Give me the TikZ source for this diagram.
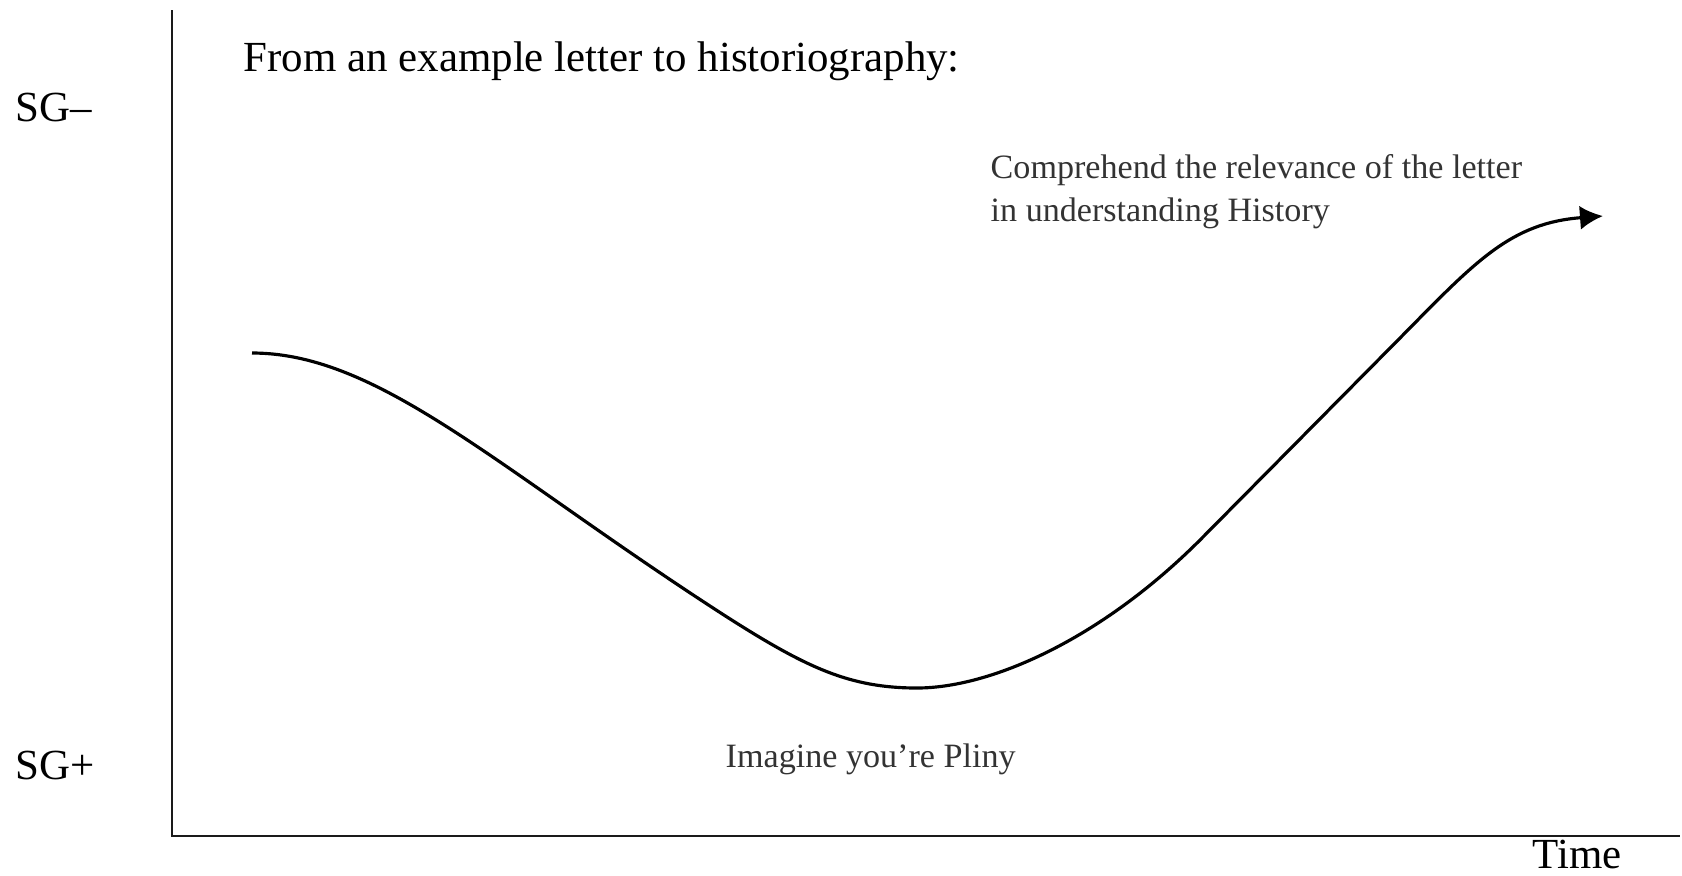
\documentclass[tikz,border=0pt]{standalone}
\usepackage{fontspec}
\setmainfont{Liberation Serif}
\usepackage{tikz}
\usetikzlibrary{arrows.meta,positioning}
\definecolor{AxisInk}{HTML}{1A1A1A}
\definecolor{NoteGray}{HTML}{333333}

\begin{document}
\begin{tikzpicture}[
    x=0.01cm, y=-0.01cm,
    axislabel/.style={
      anchor=base west,
      inner sep=0pt,
      font=\fontsize{12.2}{14}\selectfont
    },
    note/.style={
      anchor=base west,
      inner sep=0pt,
      text=NoteGray,
      font=\fontsize{9.7}{12}\selectfont
    },
    axisline/.style={
      line width=0.6pt,
      color=AxisInk
    },
    trend/.style={
      line width=0.9pt,
      -{Latex[length=2.3mm,width=2.4mm]}
    }
  ]

  \useasboundingbox (0,0) rectangle (1682,875);

  % Axes
  \coordinate (ytop) at (172,10);
  \coordinate (origin) at (172,836);
  \coordinate (xend) at (1680,836);
  \draw[axisline] (ytop) -- (origin) -- (xend);

  % Axis labels
  \node[axislabel] (sgminus) at (15,121) {SG–};
  \node[axislabel] (sgplus) at (15,779) {SG+};
  \node[axislabel] (timelabel) at (1532,868) {Time};

  % Title
  \node[axislabel] (title) at (243,71) {From an example letter to historiography:};

  % Wave
  \coordinate (start) at (252,353);
  \coordinate (dip) at (917,688);
  \coordinate (finish) at (1603,216);
  \draw[trend] (start) .. controls (380,353) and (500,471) .. (727,617)
    .. controls (807,668) and (850,688) .. (dip)
    .. controls (990,688) and (1100,640) .. (1200,540)
    -- (1400,338)
    .. controls (1475,262) and (1510,223) .. (finish);

  % Notes
  \node[note] (goaltop) at (990,178) {Comprehend the relevance of the letter};
  \node[note] (goalbot) at (990,221) {in understanding History};
  \node[note] (pliny) at (725,767) {Imagine you're Pliny};

\end{tikzpicture}
\end{document}
